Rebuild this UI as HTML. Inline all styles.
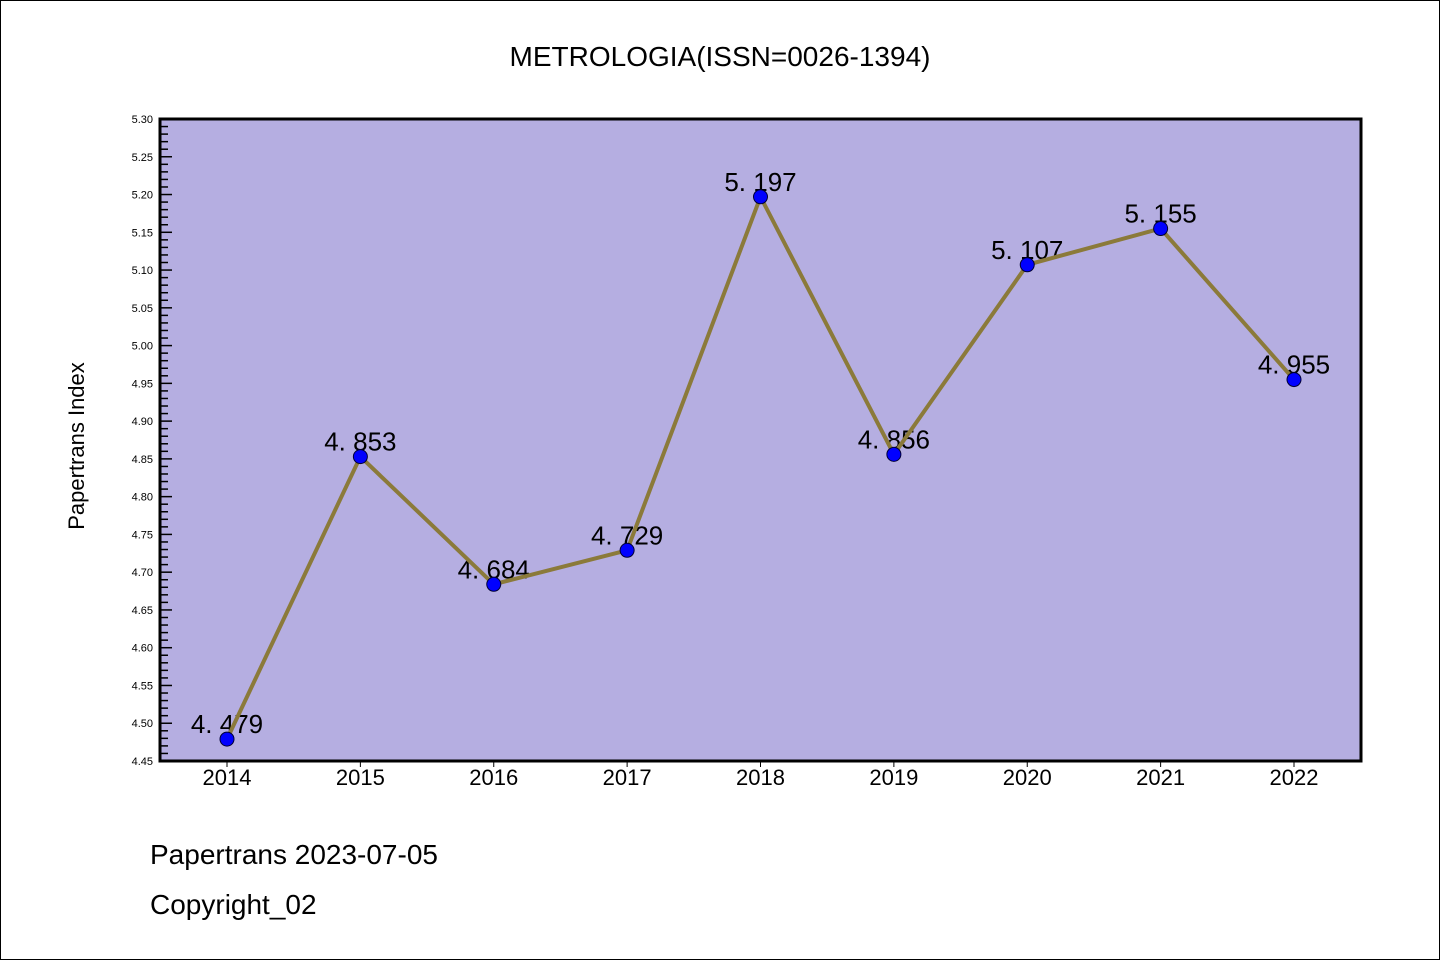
<!DOCTYPE html>
<html><head><meta charset="utf-8"><style>
body{margin:0;background:#fff}
svg{display:block}
text{font-family:"WenQuanYi Zen Hei","Liberation Sans",sans-serif}
</style></head><body>
<svg width="1440" height="960">
<rect x="0.5" y="0.5" width="1439" height="959" fill="#fff" stroke="#000"/>
<text x="720" y="66" font-size="28" text-anchor="middle">METROLOGIA(ISSN=0026-1394)</text>
<rect x="160" y="119" width="1201" height="642" fill="#b5aee1"/>
<g id="yticks"></g><g id="xticks"></g><g id="labels"></g><g id="series"></g>
<rect x="160" y="119" width="1201" height="642" fill="none" stroke="#000" stroke-width="3"/>
<text transform="translate(84,446) rotate(-90)" font-size="22" text-anchor="middle">Papertrans Index</text>
<text x="150" y="864" font-size="28">Papertrans 2023-07-05</text>
<text x="150" y="914" font-size="28">Copyright_02</text>
</svg>
<script>
const years=["2014","2015","2016","2017","2018","2019","2020","2021","2022"];
const values=[4.479,4.853,4.684,4.729,5.197,4.856,5.107,5.155,4.955];
const valueLabels=["4.479","4.853","4.684","4.729","5.197","4.856","5.107","5.155","4.955"];
const yMin=4.45,yMax=5.30;
const NS="http://www.w3.org/2000/svg";
const X=i=>227+i*(1294-227)/(years.length-1);
const Y=v=>761-(v-yMin)/(yMax-yMin)*642;
function mk(t,a,p){const e=document.createElementNS(NS,t);for(const k in a)e.setAttribute(k,a[k]);p.appendChild(e);return e;}
const yt=document.getElementById('yticks');
for(let k=0;k<=85;k++){const v=yMin+k*0.01,y=Y(v),maj=k%5==0;
 const l=mk('line',{x1:160,x2:160+(maj?12:8),y1:y,y2:y,stroke:'#000','stroke-width':1.5},yt);
 
 if(maj){const t=mk('text',{x:153,y:y+4,'font-size':11,'text-anchor':'end'},yt);t.textContent=v.toFixed(2);
 }}
const xt=document.getElementById('xticks');
years.forEach((yr,i)=>{const x=X(i);
 const l=mk('line',{x1:x,x2:x,y1:761,y2:767,stroke:'#000','stroke-width':1},xt);
 
 const t=mk('text',{x:x,y:785,'font-size':22,'text-anchor':'middle'},xt);t.textContent=yr;
 });
const lb=document.getElementById('labels');
values.forEach((v,i)=>{const t=mk('text',{x:X(i),y:Y(v)-6,'font-size':26,'text-anchor':'middle'},lb);
 t.textContent=valueLabels[i].replace('.','. ');
 });
const s=document.getElementById('series');
const pl=mk('polyline',{points:values.map((v,i)=>X(i)+','+Y(v)).join(' '),fill:'none',stroke:'#8b7a3a','stroke-width':4},s);

values.forEach((v,i)=>{const c=mk('circle',{cx:X(i),cy:Y(v),r:7,fill:'#0000ff',stroke:'#000033','stroke-width':1},s);
 });
</script>
</body></html>
